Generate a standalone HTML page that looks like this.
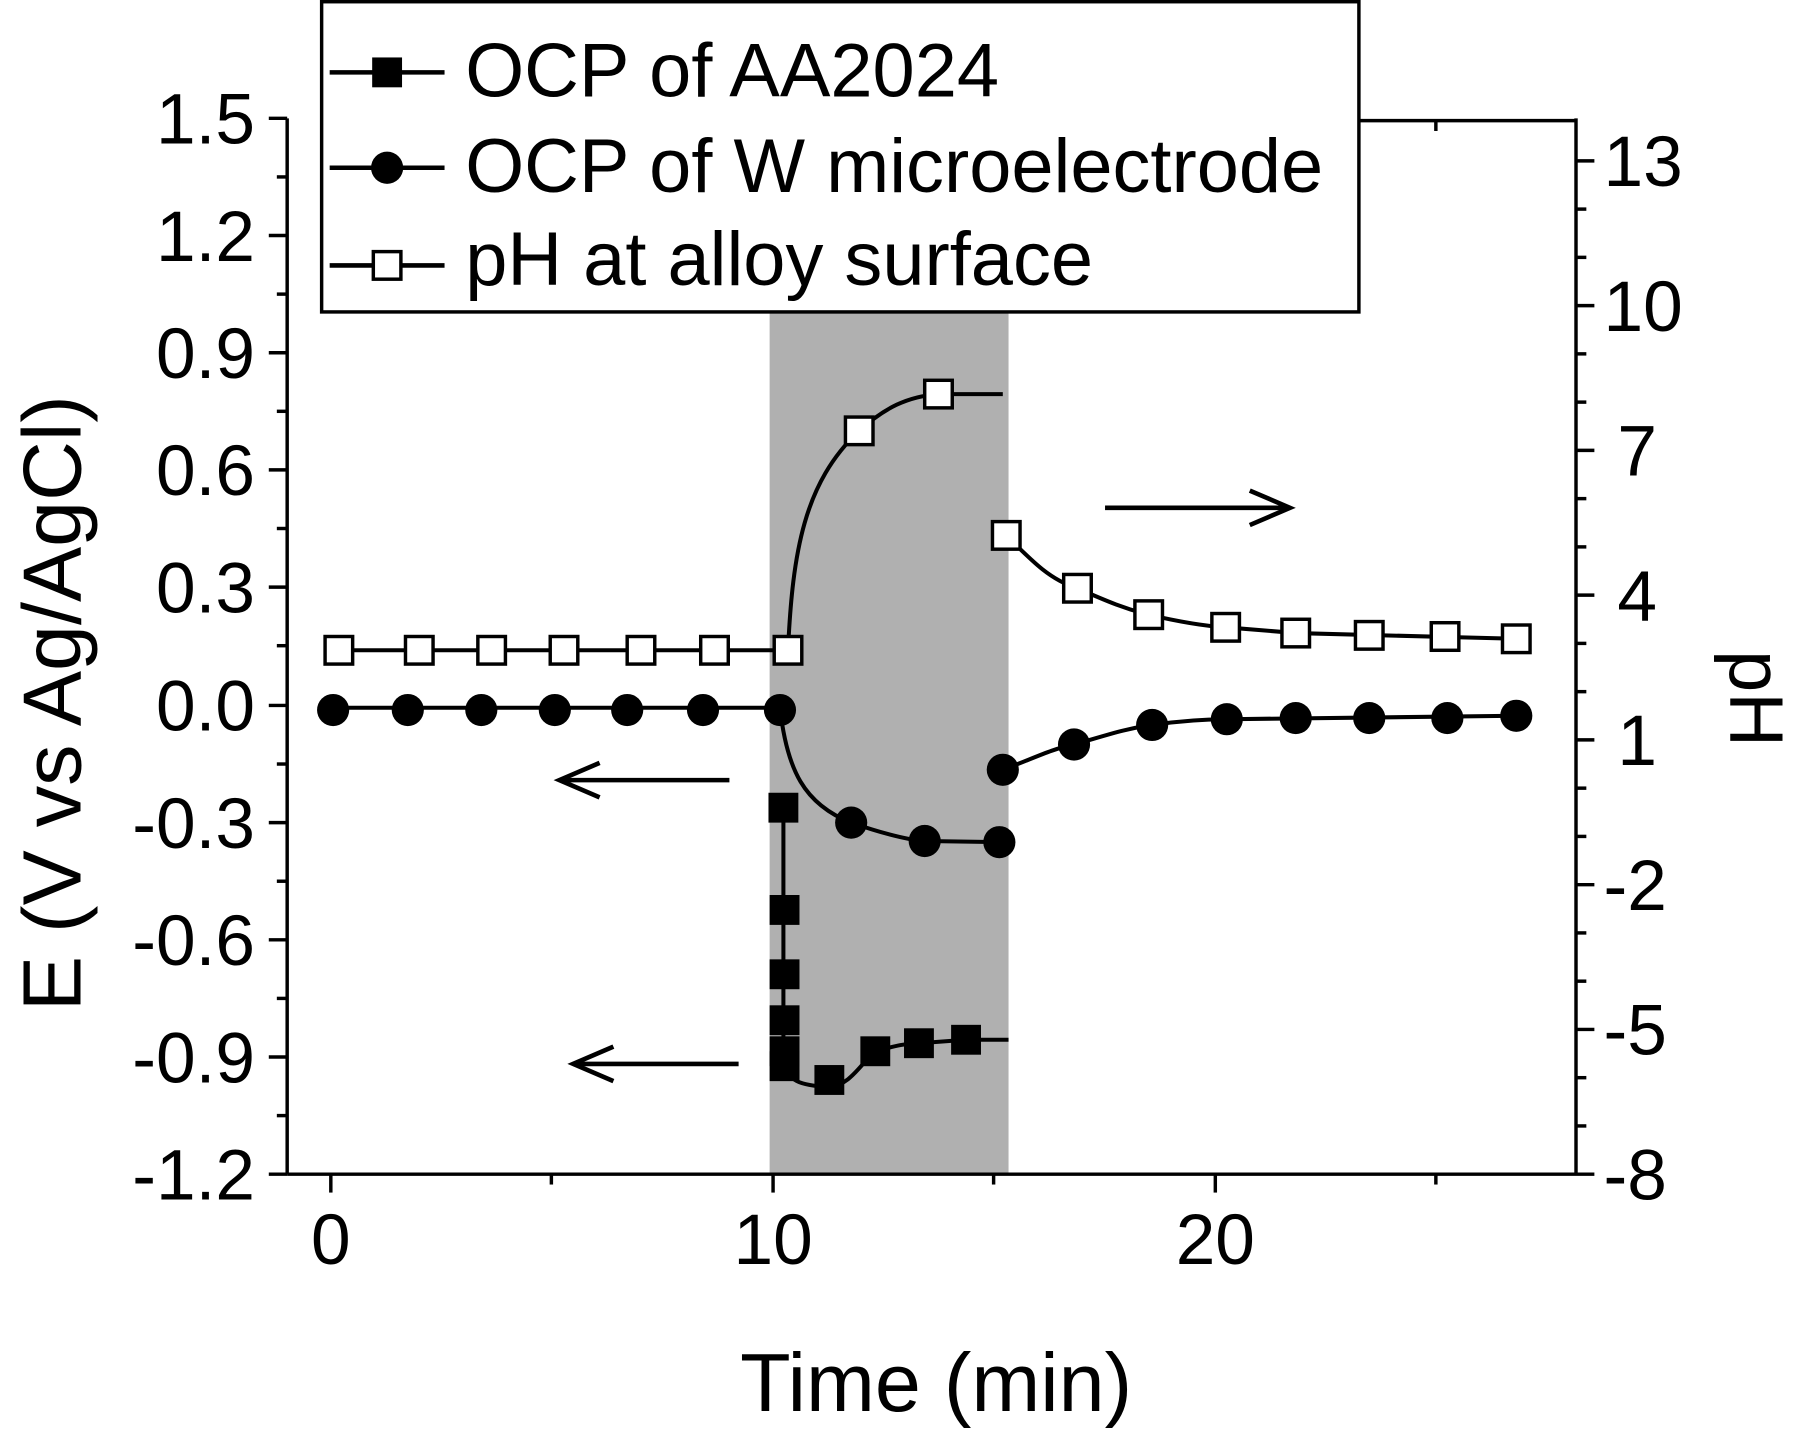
<!DOCTYPE html>
<html><head><meta charset="utf-8"><style>html,body{margin:0;padding:0;background:#fff}svg{display:block}</style></head>
<body>
<svg width="1800" height="1435" viewBox="0 0 1567 1249" preserveAspectRatio="none" xmlns="http://www.w3.org/2000/svg" font-family="Liberation Sans, Arial, sans-serif">
<rect width="1567" height="1249" fill="#fff"/>
<!-- shaded region -->
<rect x="670" y="270" width="208" height="752" fill="#b0b0b0"/>
<!-- axes box -->
<g stroke="#000" stroke-width="3" fill="none">
<line x1="250" y1="103" x2="250" y2="1022"/>
<line x1="250" y1="1022" x2="1372" y2="1022"/>
<line x1="1372" y1="103" x2="1372" y2="1022"/>
<line x1="1183" y1="105" x2="1372" y2="105"/>
</g>
<!-- left ticks -->
<g stroke="#000" stroke-width="3">
<line x1="234" y1="103" x2="250" y2="103"/><line x1="234" y1="205" x2="250" y2="205"/><line x1="234" y1="307" x2="250" y2="307"/><line x1="234" y1="409" x2="250" y2="409"/><line x1="234" y1="511" x2="250" y2="511"/><line x1="234" y1="614" x2="250" y2="614"/><line x1="234" y1="716" x2="250" y2="716"/><line x1="234" y1="818" x2="250" y2="818"/><line x1="234" y1="920" x2="250" y2="920"/><line x1="234" y1="1022" x2="250" y2="1022"/>
<line x1="241" y1="154" x2="250" y2="154"/><line x1="241" y1="256" x2="250" y2="256"/><line x1="241" y1="358" x2="250" y2="358"/><line x1="241" y1="460" x2="250" y2="460"/><line x1="241" y1="562" x2="250" y2="562"/><line x1="241" y1="665" x2="250" y2="665"/><line x1="241" y1="767" x2="250" y2="767"/><line x1="241" y1="869" x2="250" y2="869"/><line x1="241" y1="971" x2="250" y2="971"/>
<!-- right ticks -->
<line x1="1372" y1="140" x2="1388" y2="140"/><line x1="1372" y1="266" x2="1388" y2="266"/><line x1="1372" y1="392" x2="1388" y2="392"/><line x1="1372" y1="518" x2="1388" y2="518"/><line x1="1372" y1="644" x2="1388" y2="644"/><line x1="1372" y1="770" x2="1388" y2="770"/><line x1="1372" y1="896" x2="1388" y2="896"/><line x1="1372" y1="1022" x2="1388" y2="1022"/>
<line x1="1372" y1="182" x2="1381" y2="182"/><line x1="1372" y1="224" x2="1381" y2="224"/><line x1="1372" y1="308" x2="1381" y2="308"/><line x1="1372" y1="350" x2="1381" y2="350"/><line x1="1372" y1="434" x2="1381" y2="434"/><line x1="1372" y1="476" x2="1381" y2="476"/><line x1="1372" y1="560" x2="1381" y2="560"/><line x1="1372" y1="602" x2="1381" y2="602"/><line x1="1372" y1="686" x2="1381" y2="686"/><line x1="1372" y1="728" x2="1381" y2="728"/><line x1="1372" y1="812" x2="1381" y2="812"/><line x1="1372" y1="854" x2="1381" y2="854"/><line x1="1372" y1="938" x2="1381" y2="938"/><line x1="1372" y1="980" x2="1381" y2="980"/>
<!-- bottom ticks -->
<line x1="288" y1="1022" x2="288" y2="1038"/><line x1="673" y1="1022" x2="673" y2="1038"/><line x1="1058" y1="1022" x2="1058" y2="1038"/>
<line x1="480" y1="1022" x2="480" y2="1031"/><line x1="865" y1="1022" x2="865" y2="1031"/><line x1="1250" y1="1022" x2="1250" y2="1031"/>
<line x1="1250" y1="105" x2="1250" y2="114"/>
</g>
<!-- tick labels -->
<g font-size="62" fill="#000" text-anchor="end">
<text x="222" y="125">1.5</text><text x="222" y="227">1.2</text><text x="222" y="329">0.9</text><text x="222" y="431">0.6</text><text x="222" y="533">0.3</text><text x="222" y="636">0.0</text><text x="222" y="738">-0.3</text><text x="222" y="840">-0.6</text><text x="222" y="942">-0.9</text><text x="222" y="1044">-1.2</text>
</g>
<g font-size="62" fill="#000" text-anchor="start">
<text x="1396" y="162">13</text><text x="1396" y="288">10</text><text x="1408" y="414">7</text><text x="1408" y="540">4</text><text x="1408" y="666">1</text><text x="1396" y="792">-2</text><text x="1396" y="918">-5</text><text x="1396" y="1044">-8</text>
</g>
<g font-size="62" fill="#000" text-anchor="middle">
<text x="288" y="1100">0</text><text x="673" y="1100">10</text><text x="1058" y="1100">20</text>
</g>
<text x="815" y="1228" font-size="72" text-anchor="middle">Time (min)</text>
<text transform="translate(70,612) rotate(-90)" font-size="72" text-anchor="middle">E (V vs Ag/AgCl)</text>
<text transform="translate(1506,608) rotate(90)" font-size="66" text-anchor="middle">pH</text>
<!-- arrows -->
<g stroke="#000" stroke-width="4" fill="none">
<line x1="635" y1="679" x2="487" y2="679"/><polyline points="522,664 487,679 522,694"/>
<line x1="643" y1="926" x2="499" y2="926"/><polyline points="534,911 499,926 534,941"/>
<line x1="962" y1="442" x2="1123" y2="442"/><polyline points="1088,427 1123,442 1088,457"/>
</g>
<!-- series lines -->
<g stroke="#000" stroke-width="3.5" fill="none">
<polyline points="295,566 686,566"/>
<path d="M686,566 C690,480 700,420 748,375 C770,355 790,345 817,343 L873,343"/>
<path d="M876,466 C900,490 915,505 938,512 C965,524 980,530 1000,535 C1030,542 1050,545 1067,546 L1128,551 L1320,556"/>
<polyline points="290,616 679,616"/>
<path d="M679,616 C685,670 700,700 741,716 C770,726 790,731 805,732 L870,733"/>
<path d="M873,670 C900,660 915,652 935,648 C960,641 980,634 1003,631 C1030,627 1050,626 1068,626 L1320,623"/>
<path d="M682,703 L682,925 C686,940 695,945 722,946 C740,945 750,925 762,915 C780,910 790,908 800,908 L841,905 L878,905"/>
</g>
<!-- markers -->
<g fill="#fff" stroke="#000" stroke-width="3">
<rect x="283" y="554" width="24" height="24"/><rect x="353" y="554" width="24" height="24"/><rect x="416" y="554" width="24" height="24"/><rect x="479" y="554" width="24" height="24"/><rect x="546" y="554" width="24" height="24"/><rect x="610" y="554" width="24" height="24"/><rect x="674" y="554" width="24" height="24"/>
<rect x="736" y="363" width="24" height="24"/><rect x="805" y="331" width="24" height="24"/>
<rect x="864" y="454" width="24" height="24"/><rect x="926" y="500" width="24" height="24"/><rect x="988" y="523" width="24" height="24"/><rect x="1055" y="534" width="24" height="24"/><rect x="1116" y="539" width="24" height="24"/><rect x="1180" y="541" width="24" height="24"/><rect x="1246" y="542" width="24" height="24"/><rect x="1308" y="544" width="24" height="24"/>
</g>
<g fill="#000">
<circle cx="290" cy="618" r="14"/><circle cx="355" cy="618" r="14"/><circle cx="419" cy="618" r="14"/><circle cx="483" cy="618" r="14"/><circle cx="546" cy="618" r="14"/><circle cx="612" cy="618" r="14"/><circle cx="679" cy="618" r="14"/>
<circle cx="741" cy="716" r="14"/><circle cx="805" cy="732" r="14"/><circle cx="870" cy="733" r="14"/>
<circle cx="873" cy="670" r="14"/><circle cx="935" cy="648" r="14"/><circle cx="1003" cy="631" r="14"/><circle cx="1068" cy="626" r="14"/><circle cx="1128" cy="625" r="14"/><circle cx="1192" cy="625" r="14"/><circle cx="1260" cy="625" r="14"/><circle cx="1320" cy="623" r="14"/>
<rect x="669" y="690" width="26" height="26"/><rect x="670" y="779" width="26" height="26"/><rect x="670" y="835" width="26" height="26"/><rect x="670" y="875" width="26" height="26"/><rect x="670" y="902" width="26" height="26"/><rect x="670" y="915" width="26" height="26"/>
<rect x="709" y="927" width="26" height="26"/><rect x="749" y="902" width="26" height="26"/><rect x="787" y="895" width="26" height="26"/><rect x="828" y="892" width="26" height="26"/>
</g>
<!-- legend -->
<rect x="280" y="1.5" width="903" height="270" fill="#fff" stroke="#000" stroke-width="3"/>
<g stroke="#000" stroke-width="4">
<line x1="287" y1="63" x2="387" y2="63"/><line x1="287" y1="146" x2="387" y2="146"/><line x1="287" y1="231" x2="387" y2="231"/>
</g>
<rect x="324" y="50" width="26" height="26" fill="#000"/>
<circle cx="337" cy="146" r="14" fill="#000"/>
<rect x="325" y="219" width="24" height="24" fill="#fff" stroke="#000" stroke-width="3"/>
<g font-size="66" fill="#000">
<text x="405" y="84">OCP of AA2024</text>
<text x="405" y="167">OCP of W microelectrode</text>
<text x="405" y="248">pH at alloy surface</text>
</g>
</svg>
</body></html>
